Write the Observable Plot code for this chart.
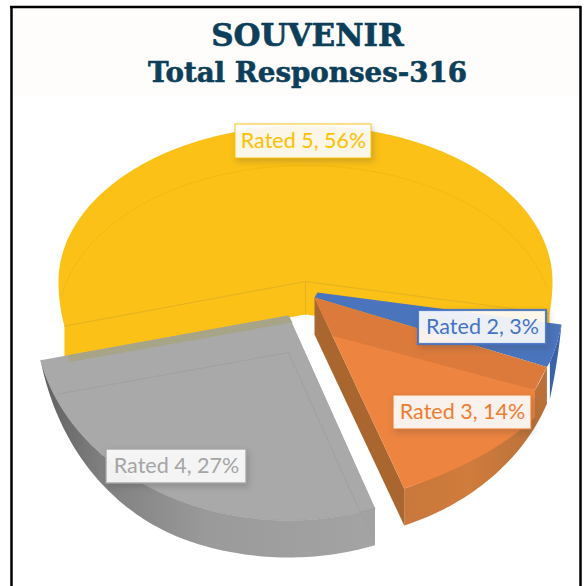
<!DOCTYPE html>
<html>
<head>
<meta charset="utf-8">
<script src="https://cdn.jsdelivr.net/npm/d3@7"></script>
<script src="https://cdn.jsdelivr.net/npm/@observablehq/plot@0.6"></script>
<style>
html,body{margin:0;padding:0;background:#fff;}
svg{display:block;}
.box{filter:drop-shadow(2px 3px 3px rgba(70,70,70,.28));}
</style>
</head>
<body>
<div id="chart"></div>
<script>
// Data, in the pie's drawing order
const labels = ["Rated 2", "Rated 3", "Rated 4", "Rated 5"];
const percents = [3, 14, 27, 56];
const colours = ["#4472c4", "#ed843f", "#a9a9a9", "#fbc116"];
const titleLines = ["SOUVENIR", "Total Responses-316"];

// Pie geometry
const W = 584, H = 586;
const ryUp = 156, ryDown = 205, firstAngle = 9;
const depth = 37;
const apexes = [[317, 292, 247], [314, 297, 247], [288, 315, 254], [305, 281, 247]];
const labelCentres = [[482, 327], [462, 412], [176, 466], [303, 141]];
const boxW = [128, 138, 140, 136], boxH = 34;
const labelInk = ["#4472c4", "#ed7d31", "#a5a5a5", "#ffc000"];
const boxStroke = [2.2, 1.2, 1.5, 1];
const perspectiveNudge = [0, 0, -1.5, 0, 0];
const grayStartNudge = 1.4;

// Angles from the values
const edges = [firstAngle];
percents.forEach(p => edges.push(edges[edges.length - 1] + p * 3.6));

const rad = d => d * Math.PI / 180;
function pt(a, deg, dy = 0) {
  const s = Math.sin(rad(deg));
  return {x: a[0] + a[2] * Math.cos(rad(deg)), y: a[1] + s * (s > 0 ? ryDown : ryUp) + dy};
}
const flat = () => 0;
function arc(a, d0, d1, shift = flat) {
  const n = Math.max(2, Math.ceil(Math.abs(d1 - d0)));
  return d3.range(n + 1).map(i => {
    const d = d0 + (d1 - d0) * i / n;
    return pt(a, d, shift(d));
  });
}
const at = (a, dy = 0) => ({x: a[0], y: a[1] + dy});
const lerp = (p, q, t) => ({x: p.x + (q.x - p.x) * t, y: p.y + (q.y - p.y) * t});
const shape = (points, fill) => Plot.line(points, {x: "x", y: "y", fill, stroke: "none"});
const edge = (points, stroke, strokeWidth = 1, strokeOpacity = 1) =>
  Plot.line(points, {x: "x", y: "y", stroke, strokeWidth, strokeOpacity});
const wedge = (a, d0, d1) => [at(a), ...arc(a, d0, d1)];
const rim = (a, d0, d1, shift) => [...arc(a, d0, d1), ...arc(a, d1, d0, shift)];

const [bA, oA, gA, yA] = apexes;
const [e0, e1, e2, e3, e4] = edges.map((e, i) => e + perspectiveNudge[i]);
const g2 = e2 + grayStartNudge;

// Yellow slice
const yellowDepth = 33;
const yellowMarks = [
  shape(wedge(yA, e3, e4), colours[3]),
  shape([at(yA), pt(yA, e3), pt(yA, e3, yellowDepth), at(yA, yellowDepth)], colours[3]),
  shape([at(yA), pt(yA, e4), pt(yA, e4, yellowDepth), at(yA, yellowDepth)], colours[3]),
  edge(arc(yA, e3 + 22, e4 - 22, () => 40), "#e8af10", 1, .5),
  edge([pt(yA, e3), at(yA), pt(yA, e4)], "#dca714", 1, .8),
  edge([at(yA), at(yA, yellowDepth)], "#dca714", 1, .8)
];

// Grey slice: the side tapers away towards the far left
const gL = pt(gA, e3), gR = pt(gA, g2);
const grayShift = d => {
  const u = Math.min(1, (e3 - d) / 55);
  return depth * (1 - (1 - u) * (1 - u));
};
const stripEnd = lerp(at(gA), gL, .89);
const grayMarks = [
  shape(rim(gA, g2, e3, grayShift), "url(#grayRim)"),
  shape([at(gA), at(gA, depth), pt(gA, g2, depth), gR], "#a2a2a2"),
  shape(wedge(gA, g2, e3), colours[2]),
  shape([at(gA), {x: gA[0] + 4, y: gA[1] + 7}, {x: stripEnd.x + 1, y: stripEnd.y + 7}, stripEnd], "#a8a488"),
  edge([lerp(at(gA, depth), pt(gA, e3, depth), .93), at(gA, depth), lerp(at(gA, depth), pt(gA, g2, depth), .87)], "#a0a0a0"),
  edge(arc(gA, g2, e3), "#989898", 1, .5)
];

// Blue slice
const oT = pt(oA, e2), oR = pt(oA, e1);
const blueShift = d => depth * (d - e0) / (e1 - e0);
const blueMarks = [
  shape(rim(bA, e0, e1, blueShift), "#3a62ab"),
  shape([...wedge(bA, e0, e1), oR, at(oA)], "#4a74bc")
];

// Orange slice: the top face's outer arc runs inside the side wall
const orangeTop = d => {
  const t = (d - e1) / (e2 - e1);
  return depth * (1 - t) * (1 - t);
};
const bandB = lerp(at(oA), oT, .2), bandC = pt(oA, e1 + 7);
const orangeMarks = [
  shape([...arc(oA, e1, e2, () => depth), ...arc(oA, e2, e1)], "url(#orangeRim)"),
  shape([at(oA), oT, pt(oA, e2, depth), at(oA, depth)], "#a9672f"),
  shape([at(oA), bandC, ...arc(oA, e1 + 7, e2, orangeTop)], colours[1]),
  shape([at(oA), oR, bandC, bandB], "#dc7a3c")
];

// Labels
const boxes = labels.map((name, i) => ({
  text: `${name}, ${percents[i]}%`,
  x1: labelCentres[i][0] - boxW[i] / 2, x2: labelCentres[i][0] + boxW[i] / 2,
  y1: labelCentres[i][1] - boxH / 2, y2: labelCentres[i][1] + boxH / 2,
  cx: labelCentres[i][0], cy: labelCentres[i][1], ink: labelInk[i], sw: boxStroke[i]
}));

const gradients = () => {
  const ns = "http://www.w3.org/2000/svg";
  const defs = document.createElementNS(ns, "defs");
  const add = (id, stops) => {
    const g = document.createElementNS(ns, "linearGradient");
    g.setAttribute("id", id);
    stops.forEach(([o, c]) => {
      const s = document.createElementNS(ns, "stop");
      s.setAttribute("offset", o);
      s.setAttribute("stop-color", c);
      g.appendChild(s);
    });
    defs.appendChild(g);
  };
  add("grayRim", [[0, "#5f5f5f"], [.18, "#7f7f7f"], [.5, "#9a9a9a"], [1, "#a4a4a4"]]);
  add("orangeRim", [[0, "#c9773b"], [.45, "#cf7c3c"], [.75, "#c2763b"], [1, "#b96f37"]]);
  return defs;
};

const chart = Plot.plot({
  width: W, height: H, margin: 0,
  style: {background: "#ffffff"},
  x: {domain: [0, W], range: [0, W], axis: null},
  y: {domain: [0, H], range: [0, H], axis: null},
  marks: [
    gradients,
    Plot.rect([{x1: 12, x2: 579, y1: 8, y2: 95}], {x1: "x1", x2: "x2", y1: "y1", y2: "y2", fill: "#fefdfb"}),
    Plot.ruleX([11], {y1: 6, y2: 586, stroke: "#000", strokeWidth: 2.5}),
    Plot.ruleX([580], {y1: 6, y2: 586, stroke: "#000", strokeWidth: 2.5}),
    Plot.ruleY([6.5], {x1: 10, x2: 581, stroke: "#000", strokeWidth: 2.5}),
    ...yellowMarks,
    ...grayMarks,
    ...blueMarks,
    ...orangeMarks,
    ...boxes.map(b => Plot.rect([b], {x1: "x1", x2: "x2", y1: "y1", y2: "y2", fill: "#fff", fillOpacity: .9,
      stroke: b.ink, strokeWidth: b.sw, strokeOpacity: .9, className: "box"})),
    Plot.text(boxes, {x: "cx", y: "cy", text: "text", fill: "ink", fontFamily: "Lato", fontSize: 21.5}),
    Plot.text([titleLines[0]], {x: () => 307, y: () => 36, text: d => d, fill: "#0d3f5a",
      stroke: "#0d3f5a", strokeWidth: .6, fontFamily: "DejaVu Serif", fontWeight: "bold", fontSize: 31}),
    Plot.text([titleLines[1]], {x: () => 307, y: () => 73, text: d => d, fill: "#0d3f5a",
      stroke: "#0d3f5a", strokeWidth: .6, fontFamily: "DejaVu Serif", fontWeight: "bold", fontSize: 27.7})
  ]
});
document.getElementById("chart").appendChild(chart);
</script>
</body>
</html>
